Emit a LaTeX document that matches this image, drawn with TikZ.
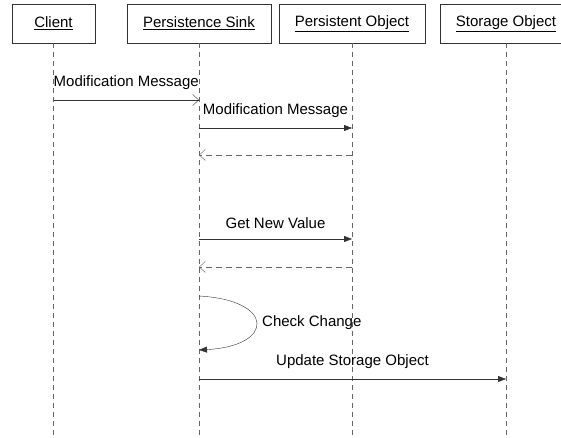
\documentclass[tikz,border=0pt]{standalone}
\usepackage{fontspec}
\setmainfont{Liberation Sans}
\usetikzlibrary{arrows.meta}

\begin{document}
\begin{tikzpicture}[x=1pt,y=-1pt,
  obj/.style={draw=black!80,minimum height=39pt,inner xsep=16pt,font=\fontsize{15}{18}\selectfont},
  life/.style={draw=black!60,dash pattern=on 5pt off 4pt},
  msg/.style={draw=black!80,-{Triangle[length=8pt,width=6pt]}},
  call/.style={draw=black!80,-{Straight Barb[length=6pt,width=11pt]}},
  reply/.style={draw=black!60,dash pattern=on 6pt off 4pt,-{Straight Barb[length=6pt,width=11pt]}},
  lbl/.style={font=\fontsize{15}{18}\selectfont,above,inner sep=3pt,yshift=7pt}]
\useasboundingbox (0,0) rectangle (561,438);
\clip (0,0) rectangle (561,438);
\node[obj,minimum width=83pt] (client) at (53.5,23.5) {\underline{Client}};
\node[obj] (sink) at (199,23.5) {\underline{Persistence Sink}};
\node[obj] (pobj) at (352,23.5) {\underline{Persistent Object}};
\node[obj] (sobj) at (506,23.5) {\underline{Storage Object}};
\coordinate (clientend) at (53.5,438);
\coordinate (sinkend) at (199,438);
\coordinate (pobjend) at (352,438);
\coordinate (sobjend) at (506,435);
\draw[life] (client) -- (clientend);
\draw[life] (sink) -- (sinkend);
\draw[life] (pobj) -- (pobjend);
\draw[life] (sobj) -- (sobjend);
\draw[call] (client |- 0,100) -- node[lbl] {Modification Message} (sink |- 0,100);
\draw[msg] (sink |- 0,128) -- node[lbl] {Modification Message} (pobj |- 0,128);
\draw[reply] (pobj |- 0,155) -- (sink |- 0,155);
\draw[msg] (sink |- 0,239) -- node[lbl] {Get New Value} (pobj |- 0,239);
\draw[reply] (pobj |- 0,267) -- (sink |- 0,267);
\draw[msg] (sink |- 0,296) .. controls (275,300) and (275,346) .. node[pos=0.5,right,font=\fontsize{15}{18}\selectfont,inner sep=6pt] (chk) {Check Change} (sink |- 0,350);
\draw[msg] (sink |- 0,379) -- node[lbl] {Update Storage Object} (sobj |- 0,379);
\end{tikzpicture}
\end{document}
